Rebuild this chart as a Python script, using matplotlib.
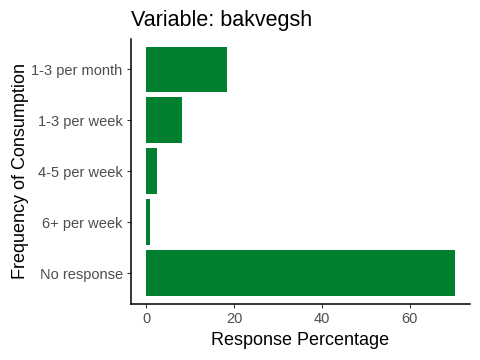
import numpy as np
import matplotlib.pyplot as plt

plt.rcParams['font.family'] = ['Liberation Sans', 'DejaVu Sans']

categories = ["1-3 per month", "1-3 per week", "4-5 per week", "6+ per week", "No response"]
percentages = [18.4, 8.2, 2.3, 0.7, 70.2]

fig = plt.figure(figsize=(4.8, 3.6), dpi=100)
ax = fig.add_axes([0.273, 0.156, 0.706, 0.736])

ypos = np.arange(len(categories))[::-1] + 1
ax.barh(ypos, percentages, height=0.9, color="#00802F")

ax.set_yticks(ypos)
ax.set_yticklabels(categories)
ax.set_xticks([0, 20, 40, 60])
ax.set_xlim(-0.05 * max(percentages), 1.05 * max(percentages))
ax.set_ylim(0.4, 5.6)

for s in ["top", "right"]:
    ax.spines[s].set_visible(False)
for s in ["left", "bottom"]:
    ax.spines[s].set_linewidth(1.1)
    ax.spines[s].set_color("black")

ax.tick_params(axis="both", length=3, width=0.8, color="#333333",
               labelcolor="#4D4D4D", labelsize=10.5, pad=3)

ax.set_xlabel("Response Percentage", fontsize=13, labelpad=4)
ax.set_ylabel("Frequency of Consumption", fontsize=13, labelpad=2)
ax.set_title("Variable: bakvegsh", fontsize=15.5, loc="left", pad=9)

fig.savefig("out.png", dpi=100)
